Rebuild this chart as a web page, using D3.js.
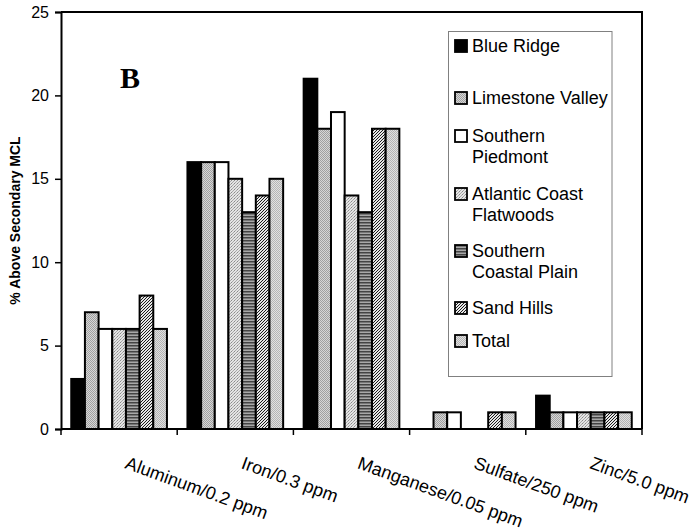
<!DOCTYPE html>
<meta charset="utf-8">
<style>
body { margin: 0; background: #fff; }
text {
    font-family: Arial, "Liberation Sans", sans-serif;
}
</style>
<svg id="thevis" width="695" height="531"></svg>

<script src="https://cdn.jsdelivr.net/npm/d3@7"></script>
<script>

// data: % of wells above the secondary MCL
var categories = ["Aluminum/0.2 ppm", "Iron/0.3 ppm", "Manganese/0.05 ppm",
                  "Sulfate/250 ppm", "Zinc/5.0 ppm"];
var series = ["Blue Ridge", "Limestone Valley", "Southern Piedmont",
              "Atlantic Coast Flatwoods", "Southern Coastal Plain",
              "Sand Hills", "Total"];

var blueRidge       = [3, 16, 21, 0, 2];
var limestoneValley = [7, 16, 18, 1, 1];
var southernPiedmont = [6, 16, 19, 1, 1];
var atlanticCoast   = [6, 15, 14, 0, 1];
var coastalPlain    = [6, 13, 13, 0, 1];
var sandHills       = [8, 14, 18, 1, 1];
var total           = [6, 15, 18, 1, 1];

var yTicks = [0, 5, 10, 15, 20, 25];

var allValues = [blueRidge, limestoneValley, southernPiedmont,
                 atlanticCoast, coastalPlain, sandHills, total];

// layout
var svg = d3.select("svg");
var plot = {left: 61, right: 642, top: 12, bottom: 429};

// fill for each series (pattern ids defined below)
var fills = ["#000", "url(#limestone)", "#fff", "url(#atlantic)",
             "url(#coastal)", "url(#sandhills)", "url(#total)"];

// legend text lines + baselines (legend entries wrap like in excel)
var legendLines = [["Blue Ridge"], ["Limestone Valley"], ["Southern", "Piedmont"],
                   ["Atlantic Coast", "Flatwoods"], ["Southern", "Coastal Plain"],
                   ["Sand Hills"], ["Total"]];
var legendY = [52, 104, 142, 200, 257, 314, 347];

// patterns
var defs = svg.append("defs");

function checker(id, a, b) {
    var p = defs.append("pattern").attr("id", id)
        .attr("patternUnits", "userSpaceOnUse").attr("width", 2).attr("height", 2);
    p.append("rect").attr("width", 2).attr("height", 2).attr("fill", a);
    p.append("rect").attr("width", 1).attr("height", 1).attr("fill", b);
    p.append("rect").attr("x", 1).attr("y", 1).attr("width", 1).attr("height", 1).attr("fill", b);
}
checker("limestone", "#d6d6d6", "#a0a0a0");
checker("total", "#e0e0e0", "#b4b4b4");

var atl = defs.append("pattern").attr("id", "atlantic")
    .attr("patternUnits", "userSpaceOnUse").attr("width", 3).attr("height", 3);
atl.append("rect").attr("width", 3).attr("height", 3).attr("fill", "#e4e4e4");
atl.append("rect").attr("width", 1).attr("height", 1).attr("fill", "#8a8a8a");
atl.append("rect").attr("x", 2).attr("y", 1).attr("width", 1).attr("height", 1).attr("fill", "#a8a8a8");
atl.append("rect").attr("x", 1).attr("y", 2).attr("width", 1).attr("height", 1).attr("fill", "#a8a8a8");

var cst = defs.append("pattern").attr("id", "coastal")
    .attr("patternUnits", "userSpaceOnUse").attr("width", 3).attr("height", 3);
cst.append("rect").attr("width", 3).attr("height", 3).attr("fill", "#a8a8a8");
cst.append("rect").attr("width", 3).attr("height", 1.5).attr("fill", "#444");

var snd = defs.append("pattern").attr("id", "sandhills")
    .attr("patternUnits", "userSpaceOnUse").attr("width", 3).attr("height", 3);
snd.append("rect").attr("width", 3).attr("height", 3).attr("fill", "#e6e6e6");
snd.append("path").attr("d", "M-1,1 L1,-1 M0,3 L3,0 M2,4 L4,2")
    .attr("stroke", "#1a1a1a").attr("stroke-width", 1);

// scales
var x0 = d3.scaleBand().domain(categories)
    .range([plot.left, plot.right]).padding(0);
var x1 = d3.scaleBand().domain(series)
    .range([0, x0.bandwidth()]).paddingInner(0).paddingOuter(0.75);
var y = d3.scaleLinear().domain([0, 25]).range([plot.bottom, plot.top]);

// bars
var barData = [];
series.forEach(function (s, i) {
    categories.forEach(function (c, j) {
        barData.push({series: s, si: i, cat: c, value: allValues[i][j]});
    });
});

svg.append("g").selectAll("rect")
    .data(barData.filter(d => d.value > 0))
    .enter().append("rect")
    .attr("x", d => x0(d.cat) + x1(d.series))
    .attr("y", d => y(d.value))
    .attr("width", x1.bandwidth())
    .attr("height", d => y(0) - y(d.value))
    .attr("fill", d => fills[d.si])
    .attr("stroke", "#000")
    .attr("stroke-width", 2);

// plot frame top + right
svg.append("path")
    .attr("d", "M" + plot.left + "," + plot.top + "H" + plot.right + "V" + plot.bottom)
    .attr("fill", "none").attr("stroke", "#000").attr("stroke-width", 2);

// y axis
var yAxis = svg.append("g")
    .attr("transform", "translate(" + plot.left + ",0)")
    .call(d3.axisLeft(y).tickValues(yTicks).tickSize(6).tickPadding(6));
yAxis.select(".domain").attr("stroke-width", 2);
yAxis.selectAll(".tick line").attr("stroke-width", 1.5);
yAxis.selectAll("text").attr("font-size", 16).attr("fill", "#000");

svg.append("text")
    .attr("transform", "translate(20," + (plot.top + plot.bottom) / 2 + ") rotate(-90)")
    .attr("text-anchor", "middle")
    .attr("font-size", 14).attr("font-weight", "bold")
    .text("% Above Secondary MCL");

// x axis: line + ticks at category boundaries
svg.append("line")
    .attr("x1", plot.left).attr("x2", plot.right)
    .attr("y1", plot.bottom).attr("y2", plot.bottom)
    .attr("stroke", "#000").attr("stroke-width", 2);

var bounds = categories.map(c => x0(c)).concat([x0.range()[1]]);
svg.append("g").selectAll("line")
    .data(bounds)
    .enter().append("line")
    .attr("x1", d => d).attr("x2", d => d)
    .attr("y1", plot.bottom).attr("y2", plot.bottom + 6)
    .attr("stroke", "#000").attr("stroke-width", 1.5);

svg.append("g").selectAll("text")
    .data(categories)
    .enter().append("text")
    .attr("transform", d => "translate(" + (x0(d) + x0.bandwidth() / 2 + 5) + ",468) rotate(20)")
    .attr("font-size", 18)
    .text(d => d);

// the panel letter (style, so the css rule above doesn't win)
svg.append("text")
    .attr("x", 120).attr("y", 88)
    .style("font-family", "'Times New Roman', 'Liberation Serif', serif")
    .attr("font-weight", "bold").attr("font-size", 30)
    .text("B");

// legend
svg.append("rect")
    .attr("x", 448.5).attr("y", 31.5)
    .attr("width", 163.5).attr("height", 345)
    .attr("fill", "#fff").attr("stroke", "#808080").attr("stroke-width", 1);

var legend = svg.append("g").selectAll("g")
    .data(series)
    .enter().append("g")
    .attr("transform", (d, i) => "translate(0," + legendY[i] + ")");

legend.append("rect")
    .attr("x", 455).attr("y", -12)
    .attr("width", 12).attr("height", 12)
    .attr("fill", (d, i) => fills[i])
    .attr("stroke", "#000").attr("stroke-width", 1.8);

legend.append("text")
    .attr("font-size", 18)
    .selectAll("tspan")
    .data((d, i) => legendLines[i])
    .enter().append("tspan")
    .attr("x", 472)
    .attr("y", (d, k) => k * 21)
    .text(d => d);

</script>
